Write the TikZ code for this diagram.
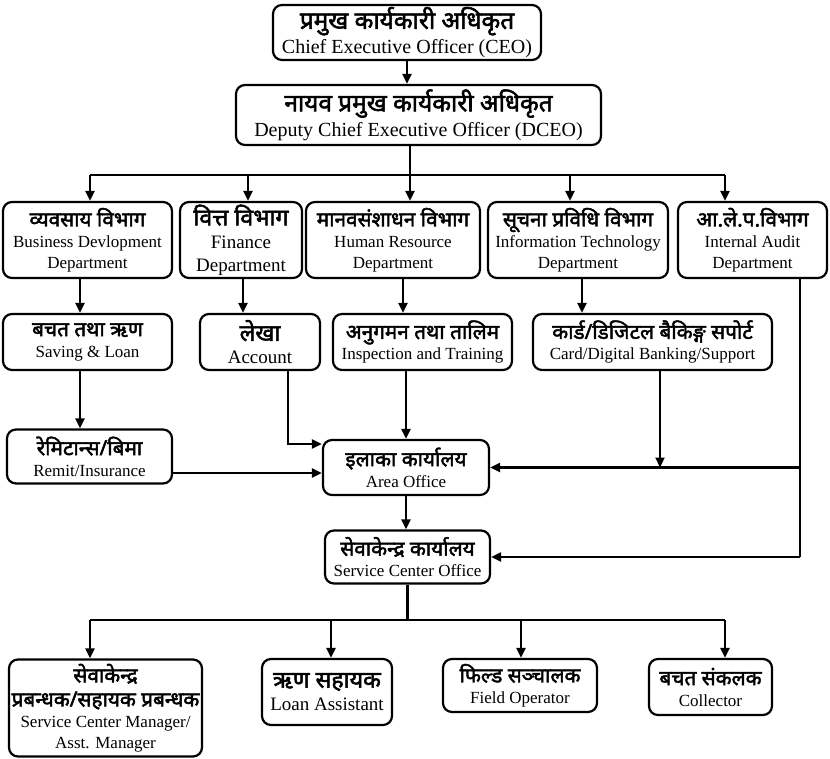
\documentclass[tikz,border=0pt]{standalone}
\usepackage{fontspec}
\setmainfont{Liberation Serif}
\newfontfamily\devfont[Script=Devanagari, Scale=1.22, FakeBold=2.2]{Noto Sans}
\usetikzlibrary{arrows.meta}
\newcommand{\dv}[1]{{\devfont #1}}

\begin{document}
\begin{tikzpicture}[x=1pt, y=-1pt, line width=2.2pt, >={Triangle[length=10pt, width=9pt]}]
				\tikzstyle{box}=[draw, rounded corners=9pt, line width=2.2pt, align=center, inner sep=1pt, font=\fontsize{17}{21}\selectfont]
				\tikzstyle{big}=[font=\fontsize{19}{23}\selectfont]
				\useasboundingbox (0,0) rectangle (830,758);
				\node[box, minimum width=268pt, minimum height=55pt, font=\fontsize{20}{25}\selectfont] (ceo) at (407,32.5) {\dv{प्रमुख कार्यकारी अधिकृत}\\Chief Executive Officer (CEO)};
				\node[box, minimum width=365pt, minimum height=60pt, font=\fontsize{20}{25}\selectfont] (dceo) at (418.5,115) {\dv{नायव प्रमुख कार्यकारी अधिकृत}\\Deputy Chief Executive Officer (DCEO)};
				\node[box, minimum width=169pt, minimum height=76pt] (bd) at (87.5,240) {\dv{व्यवसाय विभाग}\\Business Devlopment\\Department};
				\node[box, big, minimum width=122pt, minimum height=76pt] (fin) at (241,240) {\dv{वित्त विभाग}\\Finance\\Department};
				\node[box, minimum width=174pt, minimum height=76pt] (hr) at (393,240) {\dv{मानवसंशाधन विभाग}\\Human Resource\\Department};
				\node[box, minimum width=180pt, minimum height=76pt] (it) at (578,240) {\dv{सूचना प्रविधि विभाग}\\Information Technology\\Department};
				\node[box, minimum width=149pt, minimum height=76pt] (ia) at (752.5,240) {\dv{आ.ले.प.विभाग}\\Internal Audit\\Department};
				\node[box, minimum width=169pt, minimum height=56pt] (sav) at (87.5,342) {\dv{बचत तथा ऋण}\\Saving \& Loan};
				\node[box, big, minimum width=120pt, minimum height=56pt] (acc) at (260,342) {\dv{लेखा}\\Account};
				\node[box, minimum width=179pt, minimum height=56pt] (ins) at (422.5,342) {\dv{अनुगमन तथा तालिम}\\Inspection and Training};
				\node[box, minimum width=239pt, minimum height=56pt] (card) at (652.5,342) {\dv{कार्ड/डिजिटल बैकिङ्ग सपोर्ट}\\Card/Digital Banking/Support};
				\node[box, minimum width=165pt, minimum height=54pt] (remit) at (89.5,456.5) {\dv{रेमिटान्स/बिमा}\\Remit/Insurance};
				\node[box, minimum width=166pt, minimum height=55pt] (area) at (406,467.5) {\dv{इलाका कार्यालय}\\Area Office};
				\node[box, minimum width=165pt, minimum height=53pt] (svc) at (407.5,557) {\dv{सेवाकेन्द्र कार्यालय}\\Service Center Office};
				\node[box, minimum width=193pt, minimum height=97pt] (mgr) at (105.5,708) {\dv{सेवाकेन्द्र}\\[3pt]\dv{प्रबन्धक/सहायक प्रबन्धक}\\Service Center Manager/\\Asst. Manager};
				\node[box, big, minimum width=130pt, minimum height=66pt] (loan) at (327,692) {\dv{ऋण सहायक}\\Loan Assistant};
				\node[box, minimum width=154pt, minimum height=53pt] (field) at (520,685.5) {\dv{फिल्ड सञ्चालक}\\Field Operator};
				\node[box, minimum width=123pt, minimum height=56pt] (coll) at (710.5,687) {\dv{बचत संकलक}\\Collector};
				\coordinate (t1) at (90,175);
				\coordinate (t2) at (248,175);
				\coordinate (t3) at (410,175);
				\coordinate (t4) at (570,175);
				\coordinate (t5) at (725,175);
				\coordinate (d1) at (80,278);
				\coordinate (d2) at (243,278);
				\coordinate (d3) at (403,278);
				\coordinate (d4) at (582,278);
				\coordinate (d5) at (800,278);
				\coordinate (s1) at (80,370);
				\coordinate (s2) at (288,370);
				\coordinate (s3) at (660,370);
				\coordinate (b1) at (90,620);
				\coordinate (b2) at (331,620);
				\coordinate (b3) at (521,620);
				\coordinate (b4) at (725,620);
				\draw[->] (ceo.south) -- (ceo.south |- dceo.north);
				\draw (t3 |- dceo.south) -- (t3);
				\draw (t1) -- (t5);
				\foreach \t/\n in {t1/bd, t2/fin, t3/hr, t4/it, t5/ia}
					\draw[->] (\t) -- (\t |- \n.north);
				\foreach \d/\n in {d1/sav, d2/acc, d3/ins, d4/card}
					\draw[->] (\d) -- (\d |- \n.north);
				\draw[->] (s1) -- (s1 |- remit.north);
				\draw[->] (s2) |- ([yshift=23.5pt]area.west);
				\draw[->] (area.north |- ins.south) -- (area.north);
				\draw[->] ([yshift=-16.5pt]remit.east) -- ([yshift=-16.5pt]remit.east -| area.west);
				\draw[->] (s3) -- (s3 |- area.east);
				\draw (d5) -- (d5 |- svc.east);
				\draw[->] (d5 |- area.east) -- (area.east);
				\draw[->] (d5 |- svc.east) -- (svc.east);
				\draw[->] (area.south) -- (area.south |- svc.north);
				\draw (svc.south) -- (svc.south |- b1);
				\draw (b1) -- (b4);
				\foreach \b/\n in {b1/mgr, b2/loan, b3/field, b4/coll}
					\draw[->] (\b) -- (\b |- \n.north);
		\end{tikzpicture}
\end{document}
